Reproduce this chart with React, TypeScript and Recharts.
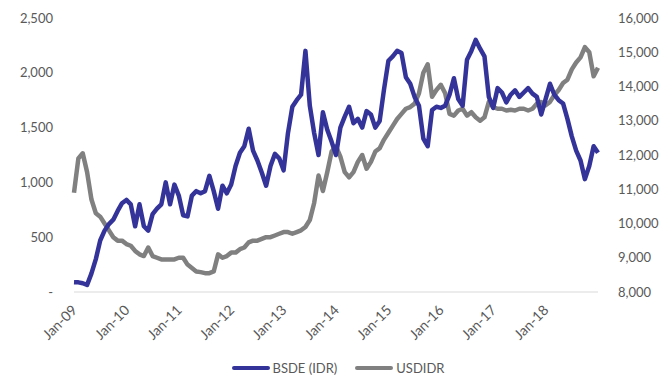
import { LineChart, Line, XAxis, YAxis, Legend } from 'recharts'

// monthly closes, Jan-09 .. Jan-19
const bsde = [
  90, 88, 80, 65, 170, 300, 470, 560, 620, 660, 740, 810,
  840, 800, 600, 800, 600, 560, 710, 760, 800, 1000, 800, 980,
  880, 700, 690, 880, 920, 900, 920, 1060, 920, 760, 970, 900,
  980, 1150, 1270, 1330, 1490, 1290, 1200, 1090, 970, 1150, 1260, 1220,
  1110, 1450, 1690, 1750, 1800, 2200, 1700, 1450, 1250, 1640, 1480, 1370,
  1250, 1500, 1600, 1690, 1540, 1580, 1500, 1650, 1620, 1500, 1560, 1850,
  2110, 2150, 2200, 2180, 1960, 1900, 1780, 1700, 1400, 1330, 1660, 1690,
  1680, 1700, 1800, 1950, 1760, 1700, 2120, 2200, 2300, 2220, 2150, 1780,
  1680, 1860, 1820, 1730, 1800, 1840, 1780, 1820, 1860, 1810, 1780, 1620,
  1760, 1900, 1800, 1750, 1720, 1580, 1420, 1290, 1200, 1030, 1150, 1330, 1270,
]

const usdidr = [
  10900, 11900, 12050, 11500, 10700, 10300, 10200, 10000, 9800, 9600, 9500, 9500,
  9400, 9350, 9200, 9100, 9050, 9300, 9050, 9000, 8950, 8950, 8950, 8950,
  9000, 9000, 8800, 8700, 8600, 8580, 8550, 8550, 8600, 9100, 9000, 9050,
  9150, 9150, 9250, 9300, 9450, 9500, 9500, 9550, 9600, 9600, 9650, 9700,
  9750, 9750, 9700, 9750, 9800, 9900, 10100, 10600, 11400, 10950, 11500, 12100,
  12250, 11950, 11500, 11350, 11500, 11800, 12000, 11600, 11800, 12100, 12200, 12450,
  12650, 12850, 13050, 13200, 13350, 13400, 13500, 13800, 14400, 14650, 13700, 13900,
  14050, 13800, 13200, 13150, 13300, 13350, 13150, 13250, 13100, 13000, 13100, 13550,
  13400, 13350, 13350, 13300, 13320, 13300, 13350, 13350, 13300, 13350, 13500, 13550,
  13450, 13550, 13750, 13900, 14100, 14200, 14500, 14700, 14850, 15150, 15000, 14300, 14550,
]

const yearLabels = ['Jan-09', 'Jan-10', 'Jan-11', 'Jan-12', 'Jan-13', 'Jan-14', 'Jan-15', 'Jan-16', 'Jan-17', 'Jan-18']
const leftTicks = [0, 500, 1000, 1500, 2000, 2500]
const rightTicks = [8000, 9000, 10000, 11000, 12000, 13000, 14000, 15000, 16000]

const data = bsde.map((v, i) => ({ m: i, bsde: v, usd: usdidr[i] }))
const xTicks = yearLabels.map((_, i) => i * 12)

const BLUE = '#333399'
const GREY = '#808080'
const TEXT = '#595959'
const FONT = 'Lato, "Open Sans", sans-serif'

const fmt = (v: number) => (v === 0 ? '-' : v.toLocaleString('en-US'))

const XTick = ({ x, y, payload }: any) => (
  <g transform={`translate(${x + 4},${y + 17}) rotate(-45)`}>
    <text x={0} y={0} textAnchor="end" fill={TEXT} fontSize={14} fontFamily={FONT}>
      {yearLabels[payload.value / 12]}
    </text>
  </g>
)

const LegendContent = () => (
  <div style={{ display: 'flex', justifyContent: 'center', alignItems: 'center', height: 30, fontFamily: FONT, fontSize: 13, color: TEXT }}>
    <span style={{ display: 'inline-block', width: 38, height: 4, background: BLUE, borderRadius: 2, marginRight: 3 }} />
    <span style={{ marginRight: 18 }}>BSDE (IDR)</span>
    <span style={{ display: 'inline-block', width: 38, height: 4, background: GREY, borderRadius: 2, marginRight: 3 }} />
    <span>USDIDR</span>
  </div>
)

export default function App() {
  return (
    <LineChart width={660} height={377} data={data} margin={{ top: 10, right: 0, bottom: 2, left: 0 }}>
      <XAxis
        dataKey="m"
        type="number"
        domain={[0, 120]}
        ticks={xTicks}
        interval={0}
        tick={<XTick />}
        tickLine={false}
        tickSize={0}
        axisLine={{ stroke: '#D9D9D9', strokeWidth: 1 }}
        height={61}
      />
      <YAxis
        yAxisId="left"
        domain={[0, 2500]}
        ticks={leftTicks}
        tickFormatter={fmt}
        axisLine={false}
        tickLine={false}
        tickSize={0}
        tickMargin={21}
        width={66}
        tick={{ fill: TEXT, fontSize: 13, fontFamily: FONT }}
      />
      <YAxis
        yAxisId="right"
        orientation="right"
        domain={[8000, 16000]}
        ticks={rightTicks}
        tickFormatter={fmt}
        axisLine={false}
        tickLine={false}
        tickSize={0}
        tickMargin={20}
        width={70}
        tick={{ fill: TEXT, fontSize: 13, fontFamily: FONT, textAnchor: 'start' }}
      />
      <Legend verticalAlign="bottom" height={30} content={<LegendContent />} />
      <Line yAxisId="right" dataKey="usd" stroke={GREY} strokeWidth={4.5} dot={false} isAnimationActive={false} strokeLinejoin="round" />
      <Line yAxisId="left" dataKey="bsde" stroke={BLUE} strokeWidth={4.5} dot={false} isAnimationActive={false} strokeLinejoin="round" />
    </LineChart>
  )
}
